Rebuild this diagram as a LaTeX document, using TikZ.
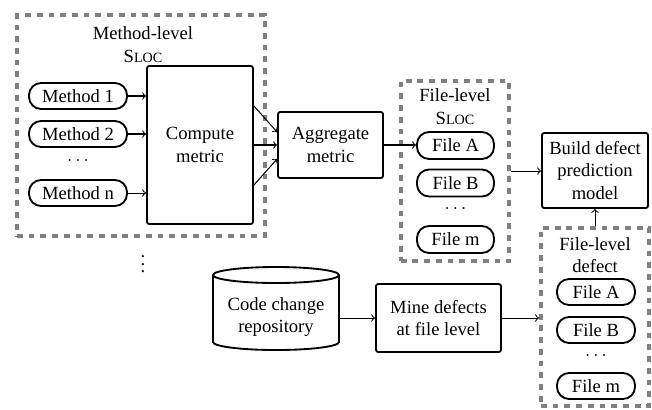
\documentclass[tikz,border=0pt]{standalone}
\usepackage{fontspec}
\setmainfont{Liberation Serif}
\usetikzlibrary{calc}
\newcommand{\Sloc}{S{\fontsize{7.6}{9}\selectfont LOC}}
\definecolor{grp}{RGB}{128,128,128}
\def\U{0.5376pt}
\begin{document}
\begin{tikzpicture}[x=0.5376pt,y=-0.5376pt,
  font=\fontsize{10}{12}\selectfont,
  box/.style={draw,line width=1pt,rounded corners=1.2pt,align=center,inner sep=0pt},
  pill/.style={draw,line width=1pt,rounded corners=6.5pt,inner sep=0pt},
  group/.style={draw=grp,line width=2.15pt,dash pattern=on 3.1pt off 3.2pt,inner sep=0pt},
  lbl/.style={align=center,inner sep=0pt},
  arr/.style={->,line width=0.55pt}]
\useasboundingbox (0,0) rectangle (652,409);
% groups
\node[group,minimum width=248*\U,minimum height=221*\U] (mgroup) at (141,125.5) {};
\node[group,minimum width=108.5*\U,minimum height=180.5*\U] (fgroup) at (455,171) {};
\node[group,minimum width=108*\U,minimum height=178.5*\U] (dgroup) at (595,317) {};
% method level
\node[lbl] (mtitle) at (143,44.5) {Method-level\\\Sloc};
\node[pill,minimum width=98*\U,minimum height=26*\U] (m1) at (78,96) {Method 1};
\node[pill,minimum width=98*\U,minimum height=26*\U] (m2) at (78,134) {Method 2};
\node[lbl] (mdots) at (78,161) {$\ldots$};
\node[pill,minimum width=98*\U,minimum height=26*\U] (mn) at (78,193) {Method n};
\node[box,minimum width=106*\U,minimum height=158*\U] (compute) at (200,145) {Compute\\metric};
\node[lbl] (vd) at (143,259) {$\vdots$};
\node[box,minimum width=105*\U,minimum height=66*\U] (agg) at (330.5,145) {Aggregate\\metric};
% file level sloc
\node[lbl] (ftitle) at (455,106.5) {File-level\\\Sloc};
\node[pill,minimum width=77*\U,minimum height=27*\U] (fA) at (455.5,145.5) {File A};
\node[pill,minimum width=77*\U,minimum height=27*\U] (fB) at (455.5,183) {File B};
\node[lbl] (fdots) at (455.5,209) {$\ldots$};
\node[pill,minimum width=77*\U,minimum height=27*\U] (fm) at (455.5,239.5) {File m};
% build
\node[box,minimum width=106*\U,minimum height=75*\U] (build) at (595,170.5) {Build defect\\prediction\\model};
% defects
\node[lbl] (dtitle) at (595,255) {File-level\\defect};
\node[pill,minimum width=78*\U,minimum height=26*\U] (dA) at (596,292) {File A};
\node[pill,minimum width=78*\U,minimum height=26*\U] (dB) at (596,330) {File B};
\node[lbl] (ddots) at (596,356) {$\ldots$};
\node[pill,minimum width=78*\U,minimum height=26*\U] (dm) at (596,386) {File m};
% repository cylinder
\node[lbl,minimum width=126*\U,minimum height=83*\U] (repo) at (276,308.5) {};
\draw[line width=1pt] (213,275) -- (213,342) arc[start angle=180,end angle=0,x radius=63,y radius=8] -- (339,275);
\draw[line width=1pt] (276,275) ellipse[x radius=63,y radius=8];
\node[lbl] at (276,317) {Code change\\repository};
\node[box,minimum width=125*\U,minimum height=68*\U] (mine) at (438.5,318) {Mine defects\\at file level};
% arrows
\draw[arr] (m1.east) -- (m1.east -| compute.west);
\draw[arr] (m2.east) -- (m2.east -| compute.west);
\draw[arr] (mn.east) -- (mn.east -| compute.west);
\draw[arr] ($(compute.east)+(0,-39)$) -- ($(agg.west)+(0,-13)$);
\draw[arr] (compute.east) -- (agg.west);
\draw[arr] ($(compute.east)+(0,40)$) -- ($(agg.west)+(0,14)$);
\draw[arr] (agg.east) -- (agg.east -| fA.west);
\draw[arr] (fgroup.east) -- (fgroup.east -| build.west);
\draw[arr] (dgroup.north -| build.south) -- (build.south);
\draw[arr] (mine.west -| repo.east) -- (mine.west);
\draw[arr] (mine.east) -- (mine.east -| dgroup.west);
\end{tikzpicture}
\end{document}
